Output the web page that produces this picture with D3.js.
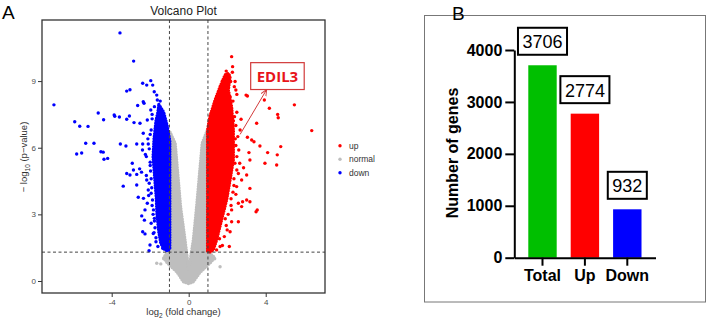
<!DOCTYPE html>
<html>
<head>
<meta charset="utf-8">
<title>Volcano plot and DEG counts</title>
<script src="https://d3js.org/d3.v7.min.js"></script>
<style>
  html, body { margin: 0; padding: 0; background: #fff; overflow: hidden; }
  svg { display: block; font-family: "Liberation Sans", Arial, sans-serif; }
  .vaxis path { display: none; }
  .vaxis line { stroke: #333; }
  .vaxis text { fill: #4d4d4d; font-size: 8px; }
  .baxis path, .baxis line { stroke: #000; stroke-width: 2px; }
  .baxis text { fill: #000; font-size: 16px; font-weight: bold; }
</style>
</head>
<body>
<svg id="chart" width="708" height="323"></svg>
<script>
// ---- panel A: volcano plot (log2 FC, -log10 p) ----
// loose "down" genes
const downX = [-3.57, -2.86, -7.0, -2.39, -2.18, -1.97, -1.87, -3.22, -3.05, -1.79, -1.66, -1.63,
  -2.36, -2.32, -2.65, -4.7, -4.42, -3.87, -3.84, -3.6, -5.92, -5.66, -5.23, -3.22, -3.08, -2.84,
  -2.53, -2.15, -1.97, -2.36, -5.35, -4.92, -3.55, -3.26, -2.7, -2.39, -2.1, -5.82, -5.56, -4.56,
  -4.44, -4.4, -4.21, -2.93, -2.4, -3.22, -3.05, -2.7, -3.4, -2.62, -2.27, -2.44, -2.39, -2.27,
  -1.8, -2.01, -2.06, -1.7, -2.87, -2.7, -2.35, -2.3, -1.84, -1.78, -1.35, -2.2, -2.0, -1.95,
  -2.1, -1.9, -2.0, -1.9, -2.55, -2.45, -2.2, -2.05, -1.95, -2.15, -1.85, -1.95, -1.75,
  -1.95, -1.9, -2.05, -2.0, -1.98, -1.92, -1.88, -1.83, -1.78, -1.7, -1.6, -1.78, -1.48,
  -2.12, -2.25, -2.18, -2.08];
const downY = [11.17, 9.9, 7.93, 8.9, 8.82, 9.02, 8.82, 8.55, 8.61, 8.52, 8.37, 8.15,
  8.07, 8.0, 7.9, 7.56, 7.26, 7.47, 7.42, 7.38, 7.17, 6.97, 6.96, 7.28, 7.43, 7.13,
  7.1, 7.25, 7.7, 6.65, 6.2, 6.2, 6.17, 6.08, 6.17, 6.17, 6.17, 5.72, 5.76, 5.82,
  5.8, 5.48, 5.52, 5.3, 5.9, 4.84, 4.77, 4.8, 4.27, 3.77, 3.2, 2.93, 2.22, 2.12,
  2.18, 1.62, 1.36, 1.77, 5.0, 4.32, 3.72, 2.74, 2.14, 2.82, 1.47, 5.6, 5.2, 4.6,
  4.1, 3.4, 6.6, 7.3, 5.05, 4.9, 4.75, 4.4, 3.95, 3.5, 3.0, 2.6, 2.4,
  6.8, 7.5, 5.95, 5.35, 4.95, 4.2, 3.65, 3.2, 2.7, 1.95, 1.55, 7.85, 8.1,
  6.4, 5.7, 4.55, 3.85];

// loose "up" genes
const upX = [2.23, 2.28, 2.18, 2.41, 2.37, 2.98, 3.05, 3.93, 5.49, 4.19, 4.62, 4.65, 2.72, 3.53,
  6.39, 2.32, 3.27, 3.39, 3.05, 3.7, 4.78, 2.67, 3.13, 4.1, 4.6, 3.18, 3.96, 4.57, 2.58, 3.01,
  2.75, 2.49, 3.18, 2.58, 2.8, 3.01, 3.18, 3.56, 3.5, 2.75, 2.23, 2.58, 2.23, 2.15, 2.11, 1.63,
  1.45, 2.5, 2.45, 2.55, 2.45, 2.6, 2.5, 2.4, 2.85, 2.65, 2.35, 2.3, 2.2, 2.45, 2.05, 1.95,
  1.85, 2.15, 2.3, 2.5, 2.45, 2.38, 2.42, 2.5, 2.35, 2.2, 2.0, 1.75, 2.27, 1.95, 1.75, 2.12,
  2.28, 1.9, 1.6];
const upY = [10.1, 9.65, 8.98, 8.98, 8.75, 8.37, 8.33, 8.15, 7.93, 7.78, 7.5, 7.35, 7.28, 7.1,
  6.77, 7.22, 6.35, 6.27, 6.47, 6.08, 6.05, 6.8, 5.78, 5.78, 5.68, 5.45, 5.3, 5.22, 4.84, 4.77,
  4.55, 4.25, 4.17, 3.5, 3.57, 3.65, 3.57, 3.2, 3.12, 3.35, 3.2, 2.67, 2.67, 2.22, 1.55, 1.55,
  1.4, 7.6, 7.0, 6.5, 6.1, 5.9, 5.6, 5.3, 5.1, 5.3, 4.6, 4.0, 3.7, 3.9, 3.0, 2.5,
  2.0, 8.3, 8.1, 8.4, 8.6, 7.4, 6.4, 5.0, 4.3, 3.4, 2.3, 1.6, 9.4, 9.45, 9.0, 8.0,
  6.9, 2.8, 1.9];

// loose "normal" genes
const normalX = [-1.66, -1.45, 1.63, -1.3, 1.35, -1.15];
const normalY = [0.8, 0.77, 0.64, 1.0, 1.0, 1.2];

// outlines of the densely packed clouds
const normalCoreX = [-0.97, -0.7, -0.42, -0.19, 0, 0.24, 0.41, 0.7, 0.97, 1.0, 1.15, 1.35, 1.1,
  0.6, 0.24, 0, -0.28, -0.6, -1.1, -1.3, -1.15, -1.0];
const normalCoreY = [6.7, 6.2, 3.34, 1.85, 0.5, 1.85, 3.34, 6.2, 6.8, 1.3, 1.2, 1.05, 0.8,
  0.4, -0.03, -0.12, -0.03, 0.4, 0.8, 1.05, 1.25, 1.4];
const downCoreX = [-1.55, -1.3, -1.12, -0.98, -0.98, -1.1, -1.3, -1.45, -1.55, -1.65, -1.68, -1.78,
  -1.85, -1.8, -1.7, -1.6];
const downCoreY = [7.95, 7.6, 7.0, 6.3, 1.45, 1.35, 1.45, 1.7, 2.2, 3.0, 3.7, 4.8,
  5.6, 6.4, 7.2, 7.6];
const upCoreX = [0.98, 0.98, 1.1, 1.37, 1.63, 1.89, 2.06, 2.15, 2.06, 2.23, 2.32, 2.32, 2.15,
  1.97, 1.71, 1.45, 1.28, 1.1];
const upCoreY = [1.35, 6.8, 7.4, 8.15, 8.75, 9.28, 9.35, 9.2, 8.6, 7.85, 6.8, 5.45, 4.55,
  3.65, 2.75, 1.85, 1.4, 1.3];

const fcCut = 1;
const pCut = 1.3;
const volcanoXTicks = [-4, 0, 4];
const volcanoYTicks = [0, 3, 6, 9];
const legendLabels = ['up', 'normal', 'down'];
const legendColors = ['#ff0000', '#bebebe', '#0000ff'];

// ---- panel B: gene counts ----
const groups = ['Total', 'Up', 'Down'];
const counts = [3706, 2774, 932];
const barColors = ['#00bf00', '#ff0000', '#0000ff'];
const countTicks = [0, 1000, 2000, 3000, 4000];

const svg = d3.select('#chart');

// ================= panel A =================
const xV = d3.scaleLinear().domain([-7.62, 7.08]).range([42, 325]);
const yV = d3.scaleLinear().domain([-0.54, 11.75]).range([293, 20]);

svg.append('text')
    .attr('x', 2).attr('y', 19)
    .attr('font-size', 19)
    .text('A');

svg.append('text')
    .attr('x', 183.5).attr('y', 14.5)
    .attr('text-anchor', 'middle')
    .attr('font-size', 12)
    .attr('fill', '#222')
    .text('Volcano Plot');

const plotA = svg.append('g');

// dense cloud: filled outline whose edge is a chain of dots
function cloud(xs, ys, color) {
    const line = d3.line()
        .x(i => xV(xs[i]))
        .y(i => yV(ys[i]))
        .curve(d3.curveLinearClosed);
    const d = line(d3.range(xs.length));
    plotA.append('path')
        .attr('d', d)
        .attr('fill', color)
        .attr('stroke', color)
        .attr('stroke-width', 1.5)
        .attr('stroke-linejoin', 'round');
    plotA.append('path')
        .attr('d', d)
        .attr('fill', 'none')
        .attr('stroke', color)
        .attr('stroke-width', 3.4)
        .attr('stroke-linecap', 'round')
        .attr('stroke-dasharray', '0,2.6');
}

function dots(xs, ys, color) {
    plotA.append('g')
        .selectAll('circle')
        .data(xs.map((x, i) => [x, ys[i]]))
        .join('circle')
        .attr('cx', d => xV(d[0]))
        .attr('cy', d => yV(d[1]))
        .attr('r', 1.7)
        .attr('fill', color);
}

cloud(normalCoreX, normalCoreY, '#bebebe');
dots(normalX, normalY, '#bebebe');
cloud(downCoreX, downCoreY, '#0000ff');
dots(downX, downY, '#0000ff');
cloud(upCoreX, upCoreY, '#ff0000');
dots(upX, upY, '#ff0000');

// threshold lines
const dash = '3,2.5';
[-fcCut, fcCut].forEach(v => {
    plotA.append('line')
        .attr('x1', xV(v)).attr('x2', xV(v))
        .attr('y1', 20).attr('y2', 293)
        .attr('stroke', '#444').attr('stroke-width', 1)
        .attr('stroke-dasharray', dash);
});
plotA.append('line')
    .attr('x1', 42).attr('x2', 325)
    .attr('y1', yV(pCut)).attr('y2', yV(pCut))
    .attr('stroke', '#444').attr('stroke-width', 1)
    .attr('stroke-dasharray', dash);

// EDIL3 call-out
const callout = { label: 'EDIL3', fromX: 2.67, fromY: 6.6, toX: 4.05, toY: 8.62,
    boxX0: 3.22, boxX1: 6.0, boxY0: 8.62, boxY1: 9.83 };
svg.append('defs').append('marker')
    .attr('id', 'arrow')
    .attr('viewBox', '0 0 10 10')
    .attr('refX', 9).attr('refY', 5)
    .attr('markerWidth', 7).attr('markerHeight', 7)
    .attr('orient', 'auto')
    .append('path')
    .attr('d', 'M0,1 L9,5 L0,9')
    .attr('fill', 'none')
    .attr('stroke', '#d23a3a')
    .attr('stroke-width', 1.3);
plotA.append('line')
    .attr('x1', xV(callout.fromX)).attr('y1', yV(callout.fromY))
    .attr('x2', xV(callout.toX)).attr('y2', yV(callout.toY))
    .attr('stroke', '#d23a3a').attr('stroke-width', 1)
    .attr('marker-end', 'url(#arrow)');
plotA.append('rect')
    .attr('x', xV(callout.boxX0)).attr('y', yV(callout.boxY1))
    .attr('width', xV(callout.boxX1) - xV(callout.boxX0))
    .attr('height', yV(callout.boxY0) - yV(callout.boxY1))
    .attr('fill', '#fff')
    .attr('stroke', '#d23a3a').attr('stroke-width', 1.2);
plotA.append('text')
    .attr('x', (xV(callout.boxX0) + xV(callout.boxX1)) / 2)
    .attr('y', (yV(callout.boxY0) + yV(callout.boxY1)) / 2 + 5.5)
    .attr('text-anchor', 'middle')
    .attr('font-family', '"Open Sans", "Liberation Sans", sans-serif')
    .attr('font-size', 15)
    .attr('font-weight', 'bold')
    .attr('fill', '#e8141a')
    .text(callout.label);

// frame and axes
svg.append('rect')
    .attr('x', 42).attr('y', 20)
    .attr('width', 283).attr('height', 273)
    .attr('fill', 'none')
    .attr('stroke', '#333').attr('stroke-width', 1.3);

svg.append('g')
    .attr('class', 'vaxis')
    .attr('transform', 'translate(42,0)')
    .call(d3.axisLeft(yV).tickValues(volcanoYTicks).tickSize(4).tickPadding(2));
svg.append('g')
    .attr('class', 'vaxis')
    .attr('transform', 'translate(0,293)')
    .call(d3.axisBottom(xV).tickValues(volcanoXTicks).tickSize(4).tickPadding(2)
        .tickFormat(d => d < 0 ? '-' + Math.abs(d) : d));

const xLab = svg.append('text')
    .attr('x', 183.5).attr('y', 315)
    .attr('text-anchor', 'middle')
    .attr('font-size', 9.5)
    .attr('fill', '#333');
xLab.append('tspan').text('log');
xLab.append('tspan').attr('font-size', 6.5).attr('dy', 2.5).text('2');
xLab.append('tspan').attr('dy', -2.5).text(' (fold change)');

const yLab = svg.append('text')
    .attr('transform', 'translate(27,157) rotate(-90)')
    .attr('text-anchor', 'middle')
    .attr('font-size', 9.5)
    .attr('fill', '#333');
yLab.append('tspan').text('\u2212 log');
yLab.append('tspan').attr('font-size', 6.5).attr('dy', 2.5).text('10');
yLab.append('tspan').attr('dy', -2.5).text(' (p\u2212value)');

const legend = svg.append('g');
legendLabels.forEach((lab, i) => {
    const ly = 145.7 + i * 13.5;
    legend.append('circle')
        .attr('cx', 340).attr('cy', ly).attr('r', 1.7)
        .attr('fill', legendColors[i]);
    legend.append('text')
        .attr('x', 349).attr('y', ly + 3)
        .attr('font-size', 8.5)
        .attr('fill', '#333')
        .text(lab);
});

// ================= panel B =================
svg.append('rect')
    .attr('x', 424.5).attr('y', 15.5)
    .attr('width', 281).attr('height', 286.5)
    .attr('fill', 'none')
    .attr('stroke', '#777').attr('stroke-width', 1);

svg.append('text')
    .attr('x', 452).attr('y', 20)
    .attr('font-size', 19)
    .text('B');

const xB = d3.scaleBand().domain(groups).range([514.3, 655.5])
    .paddingInner(0.33).paddingOuter(0.33);
const yB = d3.scaleLinear().domain([0, 4000]).range([257.7, 50]);

svg.append('g')
    .selectAll('rect')
    .data(groups)
    .join('rect')
    .attr('x', d => xB(d))
    .attr('y', (d, i) => yB(counts[i]))
    .attr('width', xB.bandwidth())
    .attr('height', (d, i) => yB(0) - yB(counts[i]))
    .attr('fill', (d, i) => barColors[i]);

svg.append('g')
    .attr('class', 'baxis')
    .attr('transform', 'translate(514.3,0)')
    .call(d3.axisLeft(yB).tickValues(countTicks).tickFormat(d3.format('d'))
        .tickSize(9).tickPadding(3).tickSizeOuter(0));
svg.append('g')
    .attr('class', 'baxis')
    .attr('transform', `translate(0,${yB(0)})`)
    .call(d3.axisBottom(xB).tickSize(8).tickPadding(4).tickSizeOuter(0));

svg.append('text')
    .attr('transform', 'translate(452,153) rotate(-90)')
    .attr('text-anchor', 'middle')
    .attr('dominant-baseline', 'central')
    .attr('font-size', 16)
    .attr('font-weight', 'bold')
    .text('Number of genes');

// boxed value labels
const labelLift = 24;
const labels = svg.append('g')
    .selectAll('g')
    .data(groups)
    .join('g')
    .attr('transform', (d, i) => `translate(${xB(d) + xB.bandwidth() / 2},${yB(counts[i]) - labelLift})`);
labels.append('text')
    .attr('text-anchor', 'middle')
    .attr('dominant-baseline', 'central')
    .attr('y', 1)
    .attr('font-size', 18)
    .text((d, i) => counts[i]);
labels.each(function() {
    const g = d3.select(this);
    const bb = g.select('text').node().getBBox();
    g.insert('rect', 'text')
        .attr('x', bb.x - 4.5)
        .attr('y', -13.5)
        .attr('width', bb.width + 9)
        .attr('height', 27)
        .attr('fill', '#fff')
        .attr('stroke', '#000')
        .attr('stroke-width', 2);
});
</script>
</body>
</html>
